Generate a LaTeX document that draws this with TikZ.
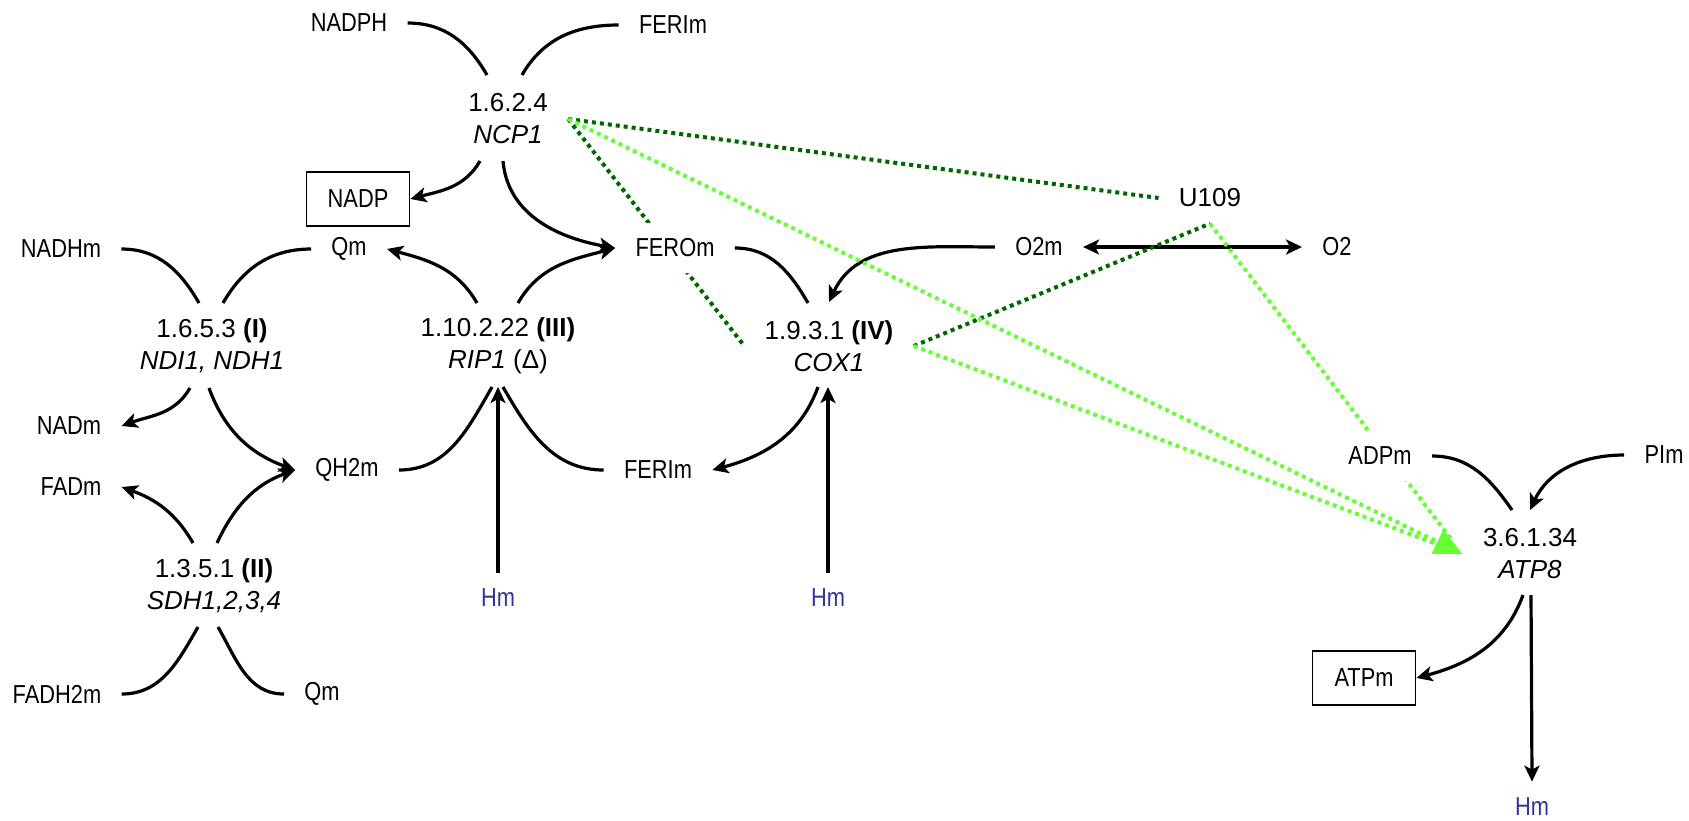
\documentclass[tikz,border=0pt]{standalone}
\usepackage{fontspec}
\setmainfont{Liberation Sans}
\newfontfamily\narrowfont[FakeStretch=0.84]{Liberation Sans}
\usetikzlibrary{arrows.meta}
\usetikzlibrary{calc}
\usetikzlibrary{backgrounds}
\definecolor{hblue}{RGB}{51,51,153}
\definecolor{regdark}{RGB}{0,102,0}
\definecolor{reglight}{RGB}{102,255,51}
\tikzset{>={Stealth[length=8pt,width=7.5pt,inset=2pt]}}
\tikzset{met/.style={font=\fontsize{13}{16}\narrowfont, inner xsep=10pt, inner ysep=8pt}}
\tikzset{masked/.style={met, fill=white}}
\tikzset{pool/.style={met, draw, line width=0.9pt, minimum width=51.5pt, minimum height=27pt}}
\tikzset{proton/.style={met, text=hblue}}
\tikzset{rxn/.style={font=\fontsize{13}{16}\selectfont, align=center, inner xsep=10pt, inner ysep=8pt}}
\tikzset{flux/.style={line width=1.6pt}}
\tikzset{regd/.style={draw=regdark, line width=2pt, dash pattern=on 2pt off 2pt}}
\tikzset{regl/.style={draw=reglight, line width=2pt, dash pattern=on 2pt off 2pt}}

\begin{document}
\begin{tikzpicture}[x=0.5pt, y=-0.5pt]
        \useasboundingbox (0,0) rectangle (1689,820);

        \node[rxn] (ncp) at (508, 119) {1.6.2.4\\\textit{NCP1}};
        \node[rxn] (cI) at (212, 346) {1.6.5.3 \textbf{(I)}\\\textit{NDI1, NDH1}};
        \node[rxn] (cII) at (214, 586) {1.3.5.1 \textbf{(II)}\\\textit{SDH1,2,3,4}};
        \node[rxn] (cIII) at (498, 346) {1.10.2.22 \textbf{(III)}\\\textit{RIP1} (Δ)};
        \node[rxn] (cIV) at (829, 346) {1.9.3.1 \textbf{(IV)}\\\textit{COX1}};
        \node[rxn] (atp) at (1530, 554) {3.6.1.34\\\textit{ATP8}};
        \node[rxn] (u109) at (1210, 198) {U109};

        \node[met] (nadph) at (349, 23) {NADPH};
        \node[met] (ferimA) at (673, 25) {FERIm};
        \node[pool] (nadp) at (358, 199) {NADP};
        \node[met] (nadhm) at (61, 249) {NADHm};
        \node[met] (qmA) at (349, 249) {Qm};
        \node[masked] (ferom) at (675, 248) {FEROm};
        \node[met] (nadm) at (69, 426) {NADm};
        \node[met] (qh2m) at (347, 470) {QH2m};
        \node[met] (ferimB) at (658, 470) {FERIm};
        \node[met] (fadm) at (71, 487) {FADm};
        \node[met] (fadh2m) at (57, 694) {FADH2m};
        \node[met] (qmB) at (322, 694) {Qm};
        \node[proton] (hmA) at (498, 598) {Hm};
        \node[proton] (hmB) at (828, 598) {Hm};
        \node[met] (o2m) at (1039, 247) {O2m};
        \node[met] (o2) at (1337, 247) {O2};
        \node[masked] (adpm) at (1380, 456) {ADPm};
        \node[met] (pim) at (1664, 455) {PIm};
        \node[pool] (atpm) at (1364, 678) {ATPm};
        \node[proton] (hmC) at (1532, 807) {Hm};

        \begin{scope}[on background layer={flux}]
        \draw (nadph.east) to[out=0, in=120] ($(ncp)+(-21,-44)$);
        \draw (ferimA.west) to[out=180, in=60] ($(ncp)+(14,-44)$);
        \draw[->] ($(ncp)+(-28,42)$) to[out=-120, in=15] (nadp.east);
        \draw[->] ($(ncp)+(-5,42)$) to[out=-85, in=170] (ferom.west);

        \draw (nadhm.east) to[out=0, in=120] ($(cI)+(-13,-43)$);
        \draw (qmA.west) to[out=180, in=60] ($(cI)+(11,-43)$);
        \draw[->] ($(cI)+(-22,42)$) to[out=-120, in=20] (nadm.east);
        \draw[->] ($(cI)+(-3,42)$) to[out=-70, in=160] (qh2m.west);

        \draw[->] ($(cII)+(-21,-43)$) to[out=120, in=-20] (fadm.east);
        \draw[->] ($(cII)+(3,-43)$) to[out=65, in=200] (qh2m.west);
        \draw (fadh2m.east) to[out=0, in=-120] ($(cII)+(-16,41)$);
        \draw (qmB.west) to[out=180, in=-60] ($(cII)+(4,41)$);

        \draw[->] ($(cIII)+(-21,-43)$) to[out=120, in=-15] (qmA.east);
        \draw[->] ($(cIII)+(20,-43)$) to[out=60, in=195] (ferom.west);
        \draw (qh2m.east) to[out=0, in=-120] ($(cIII)+(-6,41)$);
        \draw (ferimB.west) to[out=180, in=-60] ($(cIII)+(5,41)$);
        \draw[->] (hmA.north) -- ($(cIII)+(0,41)$);

        \draw (ferom.east) to[out=0, in=120] ($(cIV)+(-21,-43)$);
        \draw[->] (o2m.west) to[out=180, in=65] ($(cIV)+(0,-44)$);
        \draw[->] ($(cIV)+(-11,41)$) to[out=-110, in=15] (ferimB.east);
        \draw[->] (hmB.north) -- ($(cIV)+(-1,41)$);
        \draw[<->] (o2m.east) -- (o2.west);

        \draw (adpm.east) to[out=0, in=125] ($(atp)+(-18,-44)$);
        \draw[->] (pim.west) to[out=180, in=65] ($(atp)+(0,-44)$);
        \draw[->] ($(atp)+(-7,41)$) to[out=-110, in=15] (atpm.east);
        \draw[->] ($(atp)+(1,41)$) -- (hmC.north);

        \draw[regd] (ncp.east) -- (u109.west);
        \draw[regd] (ncp.east) -- (cIV.west);
        \draw[regd] (cIV.east) -- (u109.south);
        \draw[regl, shorten >=8pt] (cIV.east) -- (atp.west);
        \draw[regl, shorten >=8pt] (u109.south) -- (atp.west);
        \draw[regl, -{Triangle[length=14pt,width=13pt]}] (ncp.east) -- (atp.west);
        \end{scope}
    \end{tikzpicture}
\end{document}
